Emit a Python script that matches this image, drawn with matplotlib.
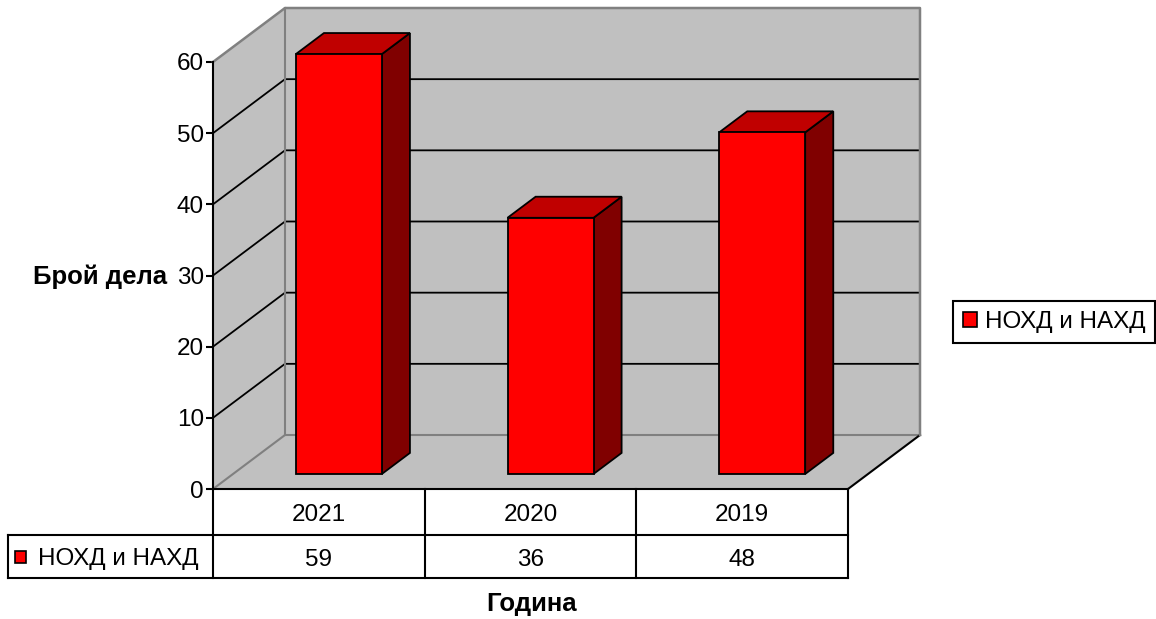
import numpy as np
import matplotlib
matplotlib.use("Agg")
import matplotlib.pyplot as plt
from matplotlib.patches import Polygon, Rectangle, Patch

plt.rcParams['font.family'] = ['Liberation Sans', 'DejaVu Sans']

years = ['2021', '2020', '2019']
values = [59, 36, 48]
series_name = 'НОХД и НАХД'
yticks = [0, 10, 20, 30, 40, 50, 60]

W, H = 1156, 619
fs = 17.5
fig = plt.figure(figsize=(W / 100, H / 100), dpi=100)
# plot area in pixels: x 213..848, y 489 (0) .. 62 (60)
ax = fig.add_axes([213 / W, (H - 489) / H, 635 / W, 427 / H])
ax.set_xlim(0, 3)
ax.set_ylim(0, 60)

px_x = 3 / 635.0          # category units per pixel
px_y = 60 / 427.0         # value units per pixel
dx, dy = 72 * px_x, 54 * px_y   # 3d depth offset

wall = '#c0c0c0'
edge = '#808080'

# floor
ax.add_patch(Polygon([(0, 0), (3, 0), (3 + dx, dy), (dx, dy)], closed=True,
                     facecolor=wall, edgecolor='none', clip_on=False, zorder=1))
ax.plot([0, dx, 3 + dx], [0, dy, dy], color=edge, lw=1.5, clip_on=False, zorder=2)
ax.plot([3, 3 + dx], [0, dy], color='black', lw=1.5, clip_on=False, zorder=2)
# left wall
ax.add_patch(Polygon([(0, 0), (dx, dy), (dx, 60 + dy), (0, 60)], closed=True,
                     facecolor=wall, edgecolor='none', clip_on=False, zorder=1))
# back wall
ax.add_patch(Rectangle((dx, dy), 3, 60, facecolor=wall, edgecolor='none',
                       clip_on=False, zorder=1))

# gridlines
for v in yticks[1:-1]:
    ax.plot([0, dx, 3 + dx], [v, v + dy, v + dy], color='black', lw=1.3,
            clip_on=False, zorder=2)
# wall outlines
ax.plot([0, dx, 3 + dx, 3 + dx], [60, 60 + dy, 60 + dy, dy], color=edge, lw=1.8,
        clip_on=False, zorder=2)
ax.plot([dx, dx], [dy, 60 + dy], color=edge, lw=1.5, clip_on=False, zorder=2)

# bars
f0, f1 = 0.278, 0.39   # depth start, bar depth (fractions)
bw = 86 * px_x
for i, v in enumerate(values):
    x0 = i + 0.5 - bw / 2 + f0 * dx
    y0 = f0 * dy
    ox, oy = f1 * dx, f1 * dy
    kw = dict(edgecolor='black', lw=1.3, clip_on=False, zorder=3)
    ax.add_patch(Polygon([(x0 + bw, y0), (x0 + bw + ox, y0 + oy),
                          (x0 + bw + ox, y0 + v + oy), (x0 + bw, y0 + v)],
                         closed=True, facecolor='#800000', **kw))
    ax.add_patch(Polygon([(x0, y0 + v), (x0 + bw, y0 + v),
                          (x0 + bw + ox, y0 + v + oy), (x0 + ox, y0 + v + oy)],
                         closed=True, facecolor='#c00000', **kw))
    ax.add_patch(Rectangle((x0, y0), bw, v, facecolor='#ff0000', **kw))

# axis
for s in ['top', 'right', 'bottom']:
    ax.spines[s].set_visible(False)
ax.spines['left'].set_linewidth(1.5)
ax.spines['left'].set_zorder(4)
ax.set_xticks([])
ax.set_yticks(yticks)
ax.tick_params(axis='y', length=5, width=1.5, pad=1.5, labelsize=fs)
ax.patch.set_visible(False)

# data table
r1 = -46 * px_y
r2 = -89 * px_y
xl = -205 * px_x
tdown = 3 * px_y
tl = dict(color='black', lw=1.5, clip_on=False, zorder=4)
ax.plot([0, 3], [0, 0], **tl)
ax.plot([xl, 3], [r1, r1], **tl)
ax.plot([xl, 3], [r2, r2], **tl)
for k in range(4):
    ax.plot([k, k], [0, r2], **tl)
ax.plot([xl, xl], [r1, r2], **tl)
for i, (yr, v) in enumerate(zip(years, values)):
    ax.text(i + 0.5, r1 / 2 - tdown, yr, ha='center', va='center', fontsize=fs)
    ax.text(i + 0.5, (r1 + r2) / 2 - tdown, str(v), ha='center', va='center', fontsize=fs)
ax.add_patch(Rectangle((xl + 7 * px_x, (r1 + r2) / 2 - 6 * px_y), 11 * px_x, 12 * px_y,
                       facecolor='#ff0000', edgecolor='black', lw=1.2, clip_on=False, zorder=4))
ax.text(xl + 30 * px_x, (r1 + r2) / 2 - tdown, series_name, ha='left', va='center',
        fontsize=fs)

# axis titles
fig.text(100 / W, 1 - 277 / H, 'Брой дела', ha='center', va='center',
         fontsize=18.5, fontweight='bold')
fig.text(532 / W, 1 - 604 / H, 'Година', ha='center', va='center',
         fontsize=18.5, fontweight='bold')

# legend
h = Patch(facecolor='#ff0000', edgecolor='black', lw=1.2)
leg = fig.legend([h], [series_name], loc='center left',
                 bbox_to_anchor=(953 / W, 1 - 322 / H), fontsize=fs,
                 fancybox=False, framealpha=1, edgecolor='black',
                 handlelength=0.6, handleheight=0.6, handletextpad=0.3,
                 borderpad=0.4, borderaxespad=0)
leg.get_frame().set_linewidth(1.5)

fig.savefig('out.png', dpi=100)
